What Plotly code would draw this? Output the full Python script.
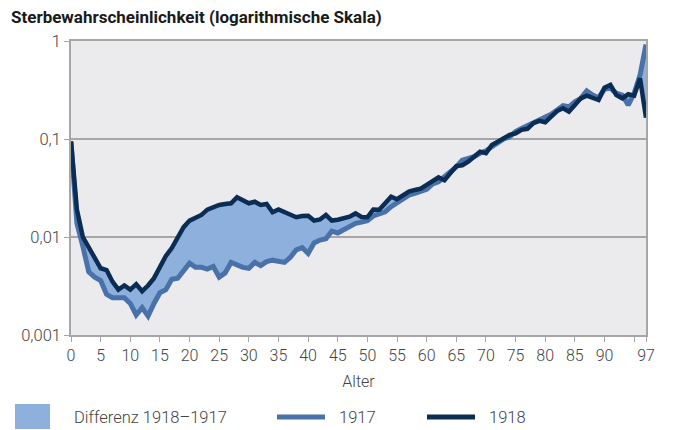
import plotly.graph_objects as go

# Sterbewahrscheinlichkeit nach Alter, 1917 und 1918
ages = list(range(0, 98))

q1917 = [0.093, 0.0138, 0.0080, 0.0044, 0.0039, 0.0036, 0.0026, 0.0024, 0.0024, 0.0024,
         0.0021, 0.0016, 0.0019, 0.00156, 0.0021, 0.0027, 0.0029, 0.0037, 0.0038, 0.0046,
         0.0054, 0.0049, 0.0049, 0.0047, 0.0050, 0.0039, 0.0043, 0.0055, 0.0052, 0.0049,
         0.0048, 0.0055, 0.0051, 0.0056, 0.0058, 0.0056, 0.0055, 0.0062, 0.0074, 0.0078,
         0.0068, 0.0087, 0.0093, 0.0096, 0.0115, 0.0110, 0.0118, 0.0127, 0.0138, 0.0142,
         0.0147, 0.0164, 0.0174, 0.0181, 0.0204, 0.0221, 0.0243, 0.0268, 0.0279, 0.0290,
         0.0306, 0.0348, 0.0366, 0.0412, 0.0464, 0.0520, 0.0609, 0.0635, 0.0660, 0.0716,
         0.0757, 0.0833, 0.0920, 0.100, 0.105, 0.119, 0.128, 0.137, 0.148, 0.156,
         0.169, 0.179, 0.198, 0.219, 0.213, 0.240, 0.260, 0.309, 0.281, 0.264,
         0.324, 0.329, 0.293, 0.281, 0.222, 0.293, 0.450, 0.920]

q1918 = [0.095, 0.019, 0.010, 0.0077, 0.0061, 0.0048, 0.0046, 0.0035, 0.0029, 0.0032,
         0.0029, 0.0033, 0.0028, 0.0032, 0.0038, 0.0050, 0.0064, 0.0077, 0.0101, 0.0126,
         0.0147, 0.0159, 0.0168, 0.0190, 0.0202, 0.0212, 0.0217, 0.0221, 0.0254, 0.0235,
         0.0221, 0.0229, 0.0212, 0.0217, 0.0179, 0.0191, 0.0181, 0.0170, 0.0159, 0.0164,
         0.0165, 0.0147, 0.0151, 0.0168, 0.0147, 0.0150, 0.0157, 0.0161, 0.0174, 0.0160,
         0.0159, 0.0191, 0.0190, 0.0224, 0.0258, 0.0243, 0.0262, 0.0290, 0.0302, 0.0311,
         0.0340, 0.0373, 0.0406, 0.0380, 0.0447, 0.0530, 0.0540, 0.0587, 0.0660, 0.0743,
         0.0716, 0.0868, 0.0940, 0.102, 0.110, 0.114, 0.124, 0.127, 0.145, 0.153,
         0.148, 0.169, 0.193, 0.206, 0.190, 0.222, 0.260, 0.277, 0.260, 0.250,
         0.334, 0.356, 0.281, 0.260, 0.286, 0.277, 0.416, 0.165]

x_tickvals = list(range(0, 96, 5)) + [97]
x_ticktext = [str(v) for v in range(0, 91, 5)] + ["", "97"]
y_tickvals = [0.001, 0.01, 0.1, 1]
y_ticktext = ["0,001", "0,01", "0,1", "1"]

col_fill = "#8db0dc"
col_1917 = "#4a72aa"
col_1918 = "#0b2d53"
col_grid = "#a6a6a6"
col_text = "#444444"
font = "Roboto"
light = dict(family=font, size=16, color=col_text, weight=300)

fig = go.Figure()

# fill between the two years
fig.add_trace(go.Scatter(x=ages, y=q1917, mode="lines", line=dict(width=0),
                         showlegend=False, hoverinfo="skip"))
fig.add_trace(go.Scatter(x=ages, y=q1918, mode="lines", line=dict(width=0),
                         fill="tonexty", fillcolor=col_fill, showlegend=False,
                         hoverinfo="skip"))
fig.add_trace(go.Scatter(x=ages, y=q1917, mode="lines", name="1917",
                         line=dict(color=col_1917, width=5), showlegend=False))
fig.add_trace(go.Scatter(x=ages, y=q1918, mode="lines", name="1918",
                         line=dict(color=col_1918, width=4.5), showlegend=False))

# the page body adds 8px on top and left, so margins are 8px smaller
fig.update_layout(
    width=673, height=430,
    margin=dict(l=63, r=35, t=33, b=103),
    paper_bgcolor="white",
    plot_bgcolor="#ebebee",
    font=dict(family=font, size=16, color=col_text),
    title=dict(text="<b>Sterbewahrscheinlichkeit (logarithmische Skala)</b>",
               x=3 / 673, xanchor="left", xref="container",
               y=1 - 9 / 430, yanchor="middle", yref="container",
               font=dict(family=font, size=17, color="#1a1a1a")),
    xaxis=dict(range=[0, 97], tickvals=x_tickvals, ticktext=x_ticktext,
               showgrid=False, zeroline=False, showline=True, mirror=True,
               linecolor=col_grid, linewidth=1.5, ticks="outside", ticklen=5,
               tickcolor=col_grid, tickfont=light,
               title=dict(text="Alter", standoff=12, font=light)),
    yaxis=dict(type="log", range=[-3, 0], tickvals=y_tickvals, ticktext=y_ticktext,
               showgrid=True, gridcolor=col_grid, gridwidth=1.5, zeroline=False,
               showline=True, mirror=True, linecolor=col_grid, linewidth=1.5,
               ticks="outside", ticklen=5, tickcolor=col_grid,
               tickfont=dict(family=font, size=16.5, color=col_text, weight=300)),
)

# legend drawn at the bottom like the original
fig.add_shape(type="rect", xref="paper", yref="paper", x0=-56 / 575, x1=-21 / 575,
              y0=-94 / 294, y1=-69 / 294, fillcolor=col_fill, line=dict(width=0))
fig.add_annotation(text="Differenz 1918\u20131917", xref="paper", yref="paper",
                   x=1 / 575, y=-82 / 294, xanchor="left", yanchor="middle",
                   showarrow=False,
                   font=dict(family=font, size=16.5, color=col_text, weight=300))
legend_lines = [("1917", col_1917, 206), ("1918", col_1918, 356)]
for label, col, x0 in legend_lines:
    fig.add_shape(type="line", xref="paper", yref="paper", x0=x0 / 575,
                  x1=(x0 + 48) / 575, y0=-82 / 294, y1=-82 / 294,
                  line=dict(color=col, width=5))
    fig.add_annotation(text=label, xref="paper", yref="paper",
                       x=(x0 + 60) / 575, y=-82 / 294, xanchor="left",
                       yanchor="middle", showarrow=False,
                       font=dict(family=font, size=16.5, color=col_text, weight=300))

fig.write_html("out.html")
